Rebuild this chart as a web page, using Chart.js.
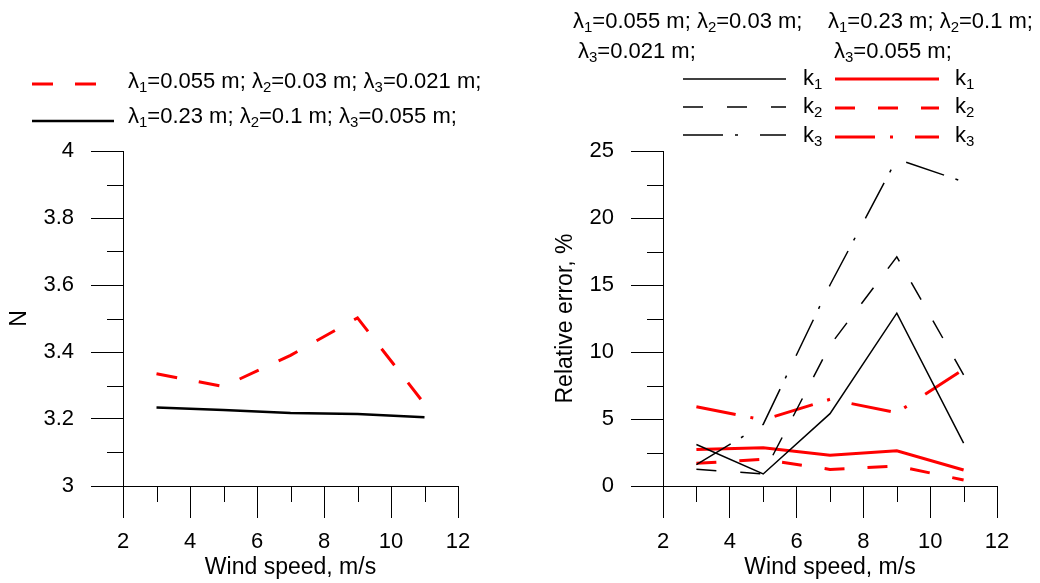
<!DOCTYPE html>
<html>
<head>
<meta charset="utf-8">
<script src="https://cdn.jsdelivr.net/npm/chart.js@4.4.1/dist/chart.umd.min.js"></script>
<style>
  body { margin: 0; background: #fff; font-family: "Liberation Sans", Arial, sans-serif; }
  #wrap { position: relative; width: 1040px; height: 583px; overflow: hidden; }
  canvas { position: absolute; top: 0; }
  .txt { position: absolute; font-size: 22px; line-height: 26px; white-space: nowrap; color: #000; }
  .txt sub { font-size: 68%; vertical-align: -0.3em; line-height: 0; }
  svg { position: absolute; left: 0; top: 0; }
</style>
</head>
<body>
<div id="wrap">
  <canvas id="chartN" width="520" height="583" style="left:0"></canvas>
  <canvas id="chartErr" width="520" height="583" style="left:520px"></canvas>

  <svg width="1040" height="150">
    <line x1="32" y1="84" x2="96" y2="84" stroke="#f00" stroke-width="3" stroke-dasharray="21 22"/>
    <line x1="32" y1="121" x2="114" y2="121" stroke="#000" stroke-width="2.5"/>

    <line x1="683" y1="79" x2="786" y2="79" stroke="#000" stroke-width="1.5"/>
    <line x1="683" y1="107" x2="786" y2="107" stroke="#000" stroke-width="1.5" stroke-dasharray="20 24"/>
    <line x1="683" y1="135" x2="786" y2="135" stroke="#000" stroke-width="1.5" stroke-dasharray="40 12 3 22"/>

    <line x1="835" y1="79" x2="939" y2="79" stroke="#f00" stroke-width="3"/>
    <line x1="835" y1="108" x2="939" y2="108" stroke="#f00" stroke-width="3" stroke-dasharray="20 23"/>
    <line x1="835" y1="137" x2="939" y2="137" stroke="#f00" stroke-width="3" stroke-dasharray="40 15 3 22"/>
  </svg>

  <div class="txt" style="left:128px; top:68px">&lambda;<sub>1</sub>=0.055 m; &lambda;<sub>2</sub>=0.03 m; &lambda;<sub>3</sub>=0.021 m;</div>
  <div class="txt" style="left:128px; top:103px">&lambda;<sub>1</sub>=0.23 m; &lambda;<sub>2</sub>=0.1 m; &lambda;<sub>3</sub>=0.055 m;</div>

  <div class="txt" style="left:573px; top:8px">&lambda;<sub>1</sub>=0.055 m; &lambda;<sub>2</sub>=0.03 m;</div>
  <div class="txt" style="left:578px; top:38px">&lambda;<sub>3</sub>=0.021 m;</div>
  <div class="txt" style="left:828px; top:8px">&lambda;<sub>1</sub>=0.23 m; &lambda;<sub>2</sub>=0.1 m;</div>
  <div class="txt" style="left:834px; top:38px">&lambda;<sub>3</sub>=0.055 m;</div>

  <div class="txt" style="left:803px; top:65px">k<sub>1</sub></div>
  <div class="txt" style="left:803px; top:93px">k<sub>2</sub></div>
  <div class="txt" style="left:803px; top:122px">k<sub>3</sub></div>
  <div class="txt" style="left:955px; top:65px">k<sub>1</sub></div>
  <div class="txt" style="left:955px; top:93px">k<sub>2</sub></div>
  <div class="txt" style="left:955px; top:122px">k<sub>3</sub></div>
</div>

<script>
// wind speed, m/s
const windSpeed = [3, 5, 7, 9, 11];

// left chart: N
const nShort = [3.335, 3.297, 3.39, 3.502, 3.245];   // λ1=0.055, λ2=0.03, λ3=0.021
const nLong = [3.234, 3.227, 3.218, 3.215, 3.205];   // λ1=0.23, λ2=0.1, λ3=0.055

// right chart: relative error, %  (black = short set, red = long set)
const errShortK1 = [3.1, 0.9, 5.4, 12.9, 3.2];
const errShortK2 = [1.25, 0.9, 10.5, 17.1, 8.3];
const errShortK3 = [1.6, 4.6, 15.0, 24.4, 22.7];
const errLongK1 = [2.73, 2.86, 2.29, 2.63, 1.19];
const errLongK2 = [1.69, 1.99, 1.24, 1.49, 0.45];
const errLongK3 = [5.92, 4.93, 6.47, 5.47, 8.71];

// minor tick positions
const minorX = [3, 5, 7, 9, 11];
const minorYN = [3.1, 3.3, 3.5, 3.7, 3.9];
const minorYErr = [2.5, 7.5, 12.5, 17.5, 22.5];

const TICK_FONT = { family: '"Liberation Sans", Arial, sans-serif', size: 22 };
const TITLE_FONT = { family: '"Liberation Sans", Arial, sans-serif', size: 23 };

const minorTicks = {
    id: 'minorTicks',
    afterDraw(chart, args, opts) {
        const { ctx } = chart;
        const x = chart.scales.x, y = chart.scales.y;
        ctx.save();
        ctx.strokeStyle = '#000';
        ctx.lineWidth = 1;
        opts.x.forEach(v => {
            const px = Math.round(x.getPixelForValue(v)) + 0.5;
            ctx.beginPath();
            ctx.moveTo(px, x.top);
            ctx.lineTo(px, x.top + 16);
            ctx.stroke();
        });
        opts.y.forEach(v => {
            const py = Math.round(y.getPixelForValue(v)) + 0.5;
            ctx.beginPath();
            ctx.moveTo(y.right - 16, py);
            ctx.lineTo(y.right, py);
            ctx.stroke();
        });
        ctx.restore();
    }
};

function pts(ys) {
    return windSpeed.map((x, i) => ({ x, y: ys[i] }));
}

function line(data, color, width, dash) {
    return {
        data: pts(data),
        borderColor: color,
        borderWidth: width,
        borderDash: dash,
        pointRadius: 0,
        tension: 0,
        fill: false,
    };
}

function axes(yMin, yMax, yStep, yTitle, yWidth, yTitlePad) {
    return {
        x: {
            type: 'linear',
            min: 2, max: 12,
            afterFit: s => { s.height = 97; },
            ticks: { stepSize: 2, color: '#000', font: TICK_FONT, padding: 11, maxRotation: 0 },
            grid: { drawOnChartArea: false, color: '#000', tickLength: 32 },
            border: { color: '#000', width: 1 },
            title: { display: true, text: 'Wind speed, m/s', color: '#000', font: TITLE_FONT, padding: { top: 0, bottom: 2 } },
        },
        y: {
            type: 'linear',
            min: yMin, max: yMax,
            afterFit: s => { s.width = yWidth; },
            ticks: {
                stepSize: yStep, color: '#000', font: TICK_FONT, padding: 17,
                callback: v => String(Number(v.toFixed(1))),
            },
            grid: { drawOnChartArea: false, color: '#000', tickLength: 32 },
            border: { color: '#000', width: 1 },
            title: { display: true, text: yTitle, color: '#000', font: TITLE_FONT, padding: { top: yTitlePad, bottom: 0 } },
        },
    };
}

function renderChart(id, datasets, scales, padRight, minorY) {
    return new Chart(document.getElementById(id), {
        type: 'line',
        data: { datasets },
        options: {
            responsive: false,
            animation: false,
            layout: { padding: { top: 151, right: padRight, left: 0, bottom: 0 } },
            plugins: {
                legend: { display: false },
                tooltip: { enabled: false },
                minorTicks: { x: minorX, y: minorY },
            },
            scales,
        },
        plugins: [minorTicks],
    });
}

renderChart('chartN', [
    line(nShort, '#f00', 3, [21, 22]),
    line(nLong, '#000', 2.5, []),
], axes(3, 4, 0.2, 'N', 123, 6), 62, minorYN);

renderChart('chartErr', [
    line(errShortK1, '#000', 1.5, []),
    line(errShortK2, '#000', 1.5, [20, 24]),
    line(errShortK3, '#000', 1.5, [40, 12, 3, 22]),
    line(errLongK1, '#f00', 3, []),
    line(errLongK2, '#f00', 3, [20, 23]),
    line(errLongK3, '#f00', 3, [40, 15, 3, 22]),
], axes(0, 25, 5, 'Relative error, %', 143, 32), 43, minorYErr);
</script>
</body>
</html>
